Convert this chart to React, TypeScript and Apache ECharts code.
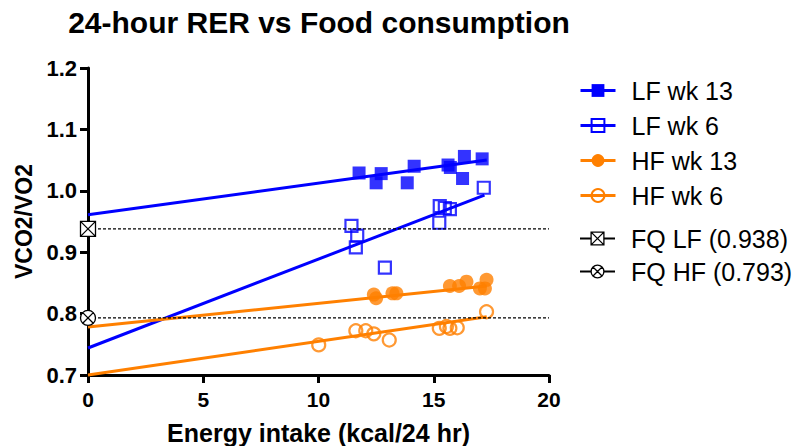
import React, { useEffect, useRef } from "react";
import * as echarts from "echarts";

// ---- data ----
const seriesNames = ["LF wk 13", "LF wk 6", "HF wk 13", "HF wk 6"];
const fqNames = ["FQ LF (0.938)", "FQ HF (0.793)"];
const fqValues = [0.938, 0.793];
const xLimits = [0, 20];
const yLimits = [0.7, 1.2];

const lfWk13X = [11.76, 12.5, 12.72, 13.85, 14.15, 15.62, 15.72, 16.25, 16.33, 17.1];
const lfWk13Y = [1.029, 1.013, 1.028, 1.013, 1.04, 1.042, 1.038, 1.02, 1.056, 1.052];
const lfWk6X = [11.43, 11.68, 11.62, 12.88, 15.26, 15.48, 15.7, 15.24, 17.17];
const lfWk6Y = [0.943, 0.927, 0.908, 0.875, 0.975, 0.972, 0.97, 0.948, 1.005];
const hfWk13X = [12.4, 12.5, 13.21, 13.38, 15.7, 16.1, 16.42, 17.0, 17.22, 17.29];
const hfWk13Y = [0.831, 0.825, 0.833, 0.833, 0.845, 0.845, 0.852, 0.841, 0.841, 0.855];
const hfWk6X = [10.01, 11.62, 12.05, 12.4, 13.07, 15.24, 15.55, 15.7, 16.02, 17.29];
const hfWk6Y = [0.749, 0.772, 0.772, 0.767, 0.757, 0.776, 0.779, 0.776, 0.777, 0.803];

// fitted regression lines: [x, y] endpoints
const lfWk13Fit = [[0, 0.961], [17.3, 1.05]];
const lfWk6Fit = [[0, 0.744], [17.2, 0.993]];
const hfWk13Fit = [[0, 0.778], [17.3, 0.845]];
const hfWk6Fit = [[0, 0.7], [17.3, 0.795]];

const BLUE = "#0000ff";
const ORANGE = "#ff8000";
const FONT = "'Liberation Sans', Arial, Helvetica, sans-serif";

const boxX = "path://M0,0L10,0L10,10L0,10Z M0,0L10,10 M10,0L0,10";
const circleX =
  "path://M10,5A5,5,0,1,1,0,5A5,5,0,1,1,10,5Z M1.46,1.46L8.54,8.54 M8.54,1.46L1.46,8.54";

const zip = (xs: number[], ys: number[]) => xs.map((x, i) => [x, ys[i]]);

export default function App() {
  const ref = useRef<HTMLDivElement>(null);
  useEffect(() => {
    if (!ref.current) return;
    const chart = echarts.init(ref.current, null, { renderer: "svg" });

    const fitDefs = [
      { name: seriesNames[0], data: lfWk13Fit, color: BLUE, symbol: "rect" },
      { name: seriesNames[1], data: lfWk6Fit, color: BLUE, symbol: "rect" },
      { name: seriesNames[2], data: hfWk13Fit, color: ORANGE, symbol: "circle" },
      { name: seriesNames[3], data: hfWk6Fit, color: ORANGE, symbol: "circle" },
    ];
    const fitSeries = fitDefs.map((d) => ({
      type: "line",
      name: d.name,
      data: d.data,
      symbol: d.symbol,
      showSymbol: false,
      silent: true,
      clip: false,
      lineStyle: { color: d.color, width: 3 },
      itemStyle: { color: d.color },
      z: 2,
    }));

    const pointSeries = [
      {
        type: "scatter",
        name: seriesNames[0],
        data: zip(lfWk13X, lfWk13Y),
        symbol: "rect",
        symbolSize: 13,
        itemStyle: { color: BLUE },
      },
      {
        type: "scatter",
        name: seriesNames[1],
        data: zip(lfWk6X, lfWk6Y),
        symbol: "rect",
        symbolSize: 12,
        itemStyle: { color: "rgba(0,0,0,0)", borderColor: BLUE, borderWidth: 2.2 },
      },
      {
        type: "scatter",
        name: seriesNames[2],
        data: zip(hfWk13X, hfWk13Y),
        symbol: "circle",
        symbolSize: 14,
        itemStyle: { color: ORANGE },
      },
      {
        type: "scatter",
        name: seriesNames[3],
        data: zip(hfWk6X, hfWk6Y),
        symbol: "circle",
        symbolSize: 13,
        itemStyle: { color: "rgba(0,0,0,0)", borderColor: ORANGE, borderWidth: 2.2 },
      },
    ].map((s) => ({ ...s, clip: false, silent: true, z: 3 }));

    const fqSymbols = [boxX, circleX];
    const fqSeries = fqNames.map((name, i) => ({
      type: "line",
      name,
      symbol: fqSymbols[i],
      symbolSize: 15,
      showSymbol: true,
      clip: false,
      silent: true,
      data: [
        { value: [xLimits[0], fqValues[i]] },
        { value: [xLimits[1], fqValues[i]], symbol: "none" },
      ],
      lineStyle: { color: "#000", width: 1.2, type: [3, 2] },
      itemStyle: { color: "#fff", borderColor: "#000", borderWidth: 1.3 },
      z: 4,
    }));

    const legendText = {
      fontSize: 25,
      color: "#000",
      fontFamily: FONT,
      padding: [0, 0, 0, 11],
    };
    const legendItem = (name: string, color: string, filled: boolean) => ({
      name,
      itemStyle: filled
        ? { color, borderWidth: 0 }
        : { color: "rgba(0,0,0,0)", borderColor: color, borderWidth: 2 },
      lineStyle: { color, width: 3, type: "solid" },
    });

    chart.setOption({
      animation: false,
      title: {
        text: "24-hour RER vs Food consumption",
        left: 314,
        top: 2,
        textAlign: "center",
        textStyle: { fontSize: 30, fontWeight: "bold", color: "#000", fontFamily: FONT },
      },
      grid: { left: 88, top: 68, width: 461, height: 307, containLabel: false, outerBoundsMode: "none" },
      legend: [
        {
          left: 579,
          top: 78,
          orient: "vertical",
          padding: 0,
          itemWidth: 35,
          itemHeight: 16,
          itemGap: 10,
          selectedMode: false,
          textStyle: legendText,
          data: [
            legendItem(seriesNames[0], BLUE, true),
            legendItem(seriesNames[1], BLUE, false),
            legendItem(seriesNames[2], ORANGE, true),
            legendItem(seriesNames[3], ORANGE, false),
          ],
        },
        {
          left: 579,
          top: 226,
          orient: "vertical",
          padding: 0,
          itemWidth: 35,
          itemHeight: 16,
          itemGap: 8,
          selectedMode: false,
          textStyle: legendText,
          data: fqNames.map((name) => ({
            name,
            itemStyle: { color: "#fff", borderColor: "#000", borderWidth: 1.3 },
            lineStyle: { color: "#000", width: 2, type: "solid" },
          })),
        },
      ],
      xAxis: {
        type: "value",
        min: xLimits[0],
        max: xLimits[1],
        interval: 5,
        name: "Energy intake (kcal/24 hr)",
        nameLocation: "middle",
        nameGap: 45,
        nameTextStyle: { fontSize: 25, fontWeight: "bold", color: "#000", fontFamily: FONT },
        axisLine: { show: true, onZero: false, lineStyle: { color: "#000", width: 3 } },
        axisTick: { show: true, inside: false, length: 8, lineStyle: { color: "#000", width: 3 } },
        axisLabel: { fontSize: 21, fontWeight: "bold", color: "#000", margin: 14, fontFamily: FONT },
        splitLine: { show: false },
      },
      yAxis: {
        type: "value",
        min: yLimits[0],
        max: yLimits[1],
        interval: 0.1,
        name: "VCO2/VO2",
        nameLocation: "middle",
        nameGap: 47,
        nameTextStyle: { fontSize: 23, fontWeight: "bold", color: "#000", fontFamily: FONT },
        axisLine: { show: true, onZero: false, lineStyle: { color: "#000", width: 3 } },
        axisTick: { show: true, inside: false, length: 8, lineStyle: { color: "#000", width: 3 } },
        axisLabel: {
          fontSize: 22,
          fontWeight: "bold",
          color: "#000",
          margin: 11,
          fontFamily: FONT,
          formatter: (v: number) => v.toFixed(1),
        },
        splitLine: { show: false },
      },
      series: [...fitSeries, ...pointSeries, ...fqSeries],
    });
    return () => chart.dispose();
  }, []);
  return (
    <div
      ref={ref}
      style={{ position: "absolute", left: 0, top: 0, width: 806, height: 446, background: "#fff" }}
    />
  );
}
